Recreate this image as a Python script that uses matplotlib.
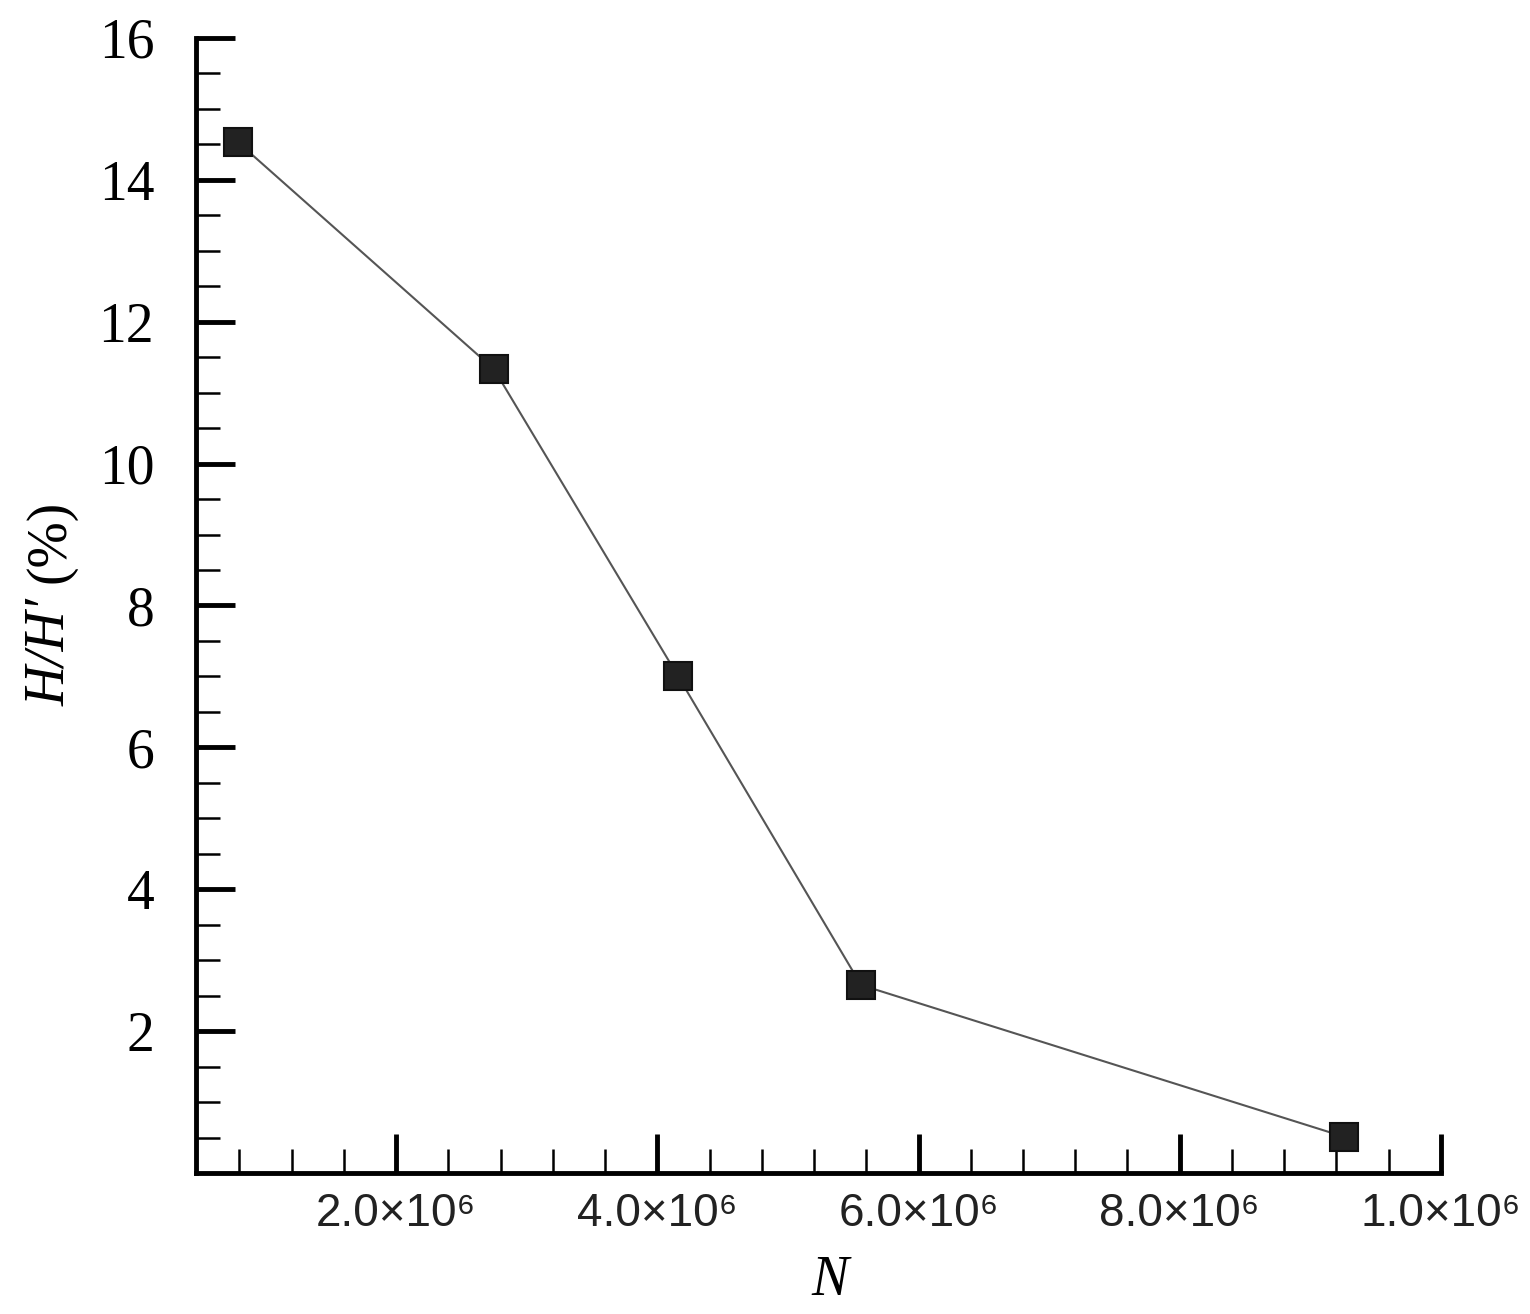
import matplotlib
matplotlib.use("Agg")
import matplotlib.pyplot as plt
from matplotlib.ticker import MultipleLocator, FixedLocator

# values
n_cells = [0.79e6, 2.75e6, 4.16e6, 5.56e6, 9.26e6]
h_ratio = [14.53, 11.33, 7.0, 2.65, 0.51]
x_major = [2.0e6, 4.0e6, 6.0e6, 8.0e6, 10.0e6]
x_labels = ["2.0", "4.0", "6.0", "8.0", "1.0"]
y_major = [2, 4, 6, 8, 10, 12, 14, 16]

fig = plt.figure(figsize=(15.3, 13.14), dpi=100)
ax = fig.add_axes([0.128, 0.1073, 0.8138, 0.8638])

ax.plot(n_cells, h_ratio, color="#555555", lw=1.5, zorder=2)
ax.plot(n_cells, h_ratio, ls="none", marker="s", ms=20,
        mfc="#222222", mec="#111111", mew=1.5, zorder=3)

ax.set_xlim(0.467e6, 1.0e7)
ax.set_ylim(0, 16)

for side in ("top", "right"):
    ax.spines[side].set_visible(False)
for side in ("left", "bottom"):
    ax.spines[side].set_linewidth(3.5)

ax.xaxis.set_major_locator(FixedLocator(x_major))
ax.xaxis.set_minor_locator(MultipleLocator(0.4e6))
ax.yaxis.set_major_locator(FixedLocator(y_major))
ax.yaxis.set_minor_locator(MultipleLocator(0.5))

ax.tick_params(which="major", direction="in", length=28, width=3.5)
ax.tick_params(which="minor", direction="in", length=17, width=1.8)
ax.tick_params(axis="y", which="major", pad=30)
ax.tick_params(axis="x", which="major", pad=14)

ax.set_xticklabels([s + "\u00d710\u2076" for s in x_labels], fontsize=33,
                   family=["Liberation Sans", "DejaVu Sans"], color="#222222")
ax.set_yticklabels([str(v) for v in y_major], fontsize=40,
                   family="Liberation Serif")

# y label: italic ratio, upright percent
ax.text(-0.117, 0.506, "H/H\u2032", transform=ax.transAxes, rotation=90,
        ha="center", va="top", fontsize=40, family="Liberation Serif",
        style="italic")
ax.text(-0.117, 0.52, "(%)", transform=ax.transAxes, rotation=90,
        ha="center", va="bottom", fontsize=40, family="Liberation Serif")

ax.set_xlabel("N", fontsize=40, family="Liberation Serif", style="italic")
ax.xaxis.set_label_coords(0.509, -0.072)

fig.savefig("out.png", dpi=100)
